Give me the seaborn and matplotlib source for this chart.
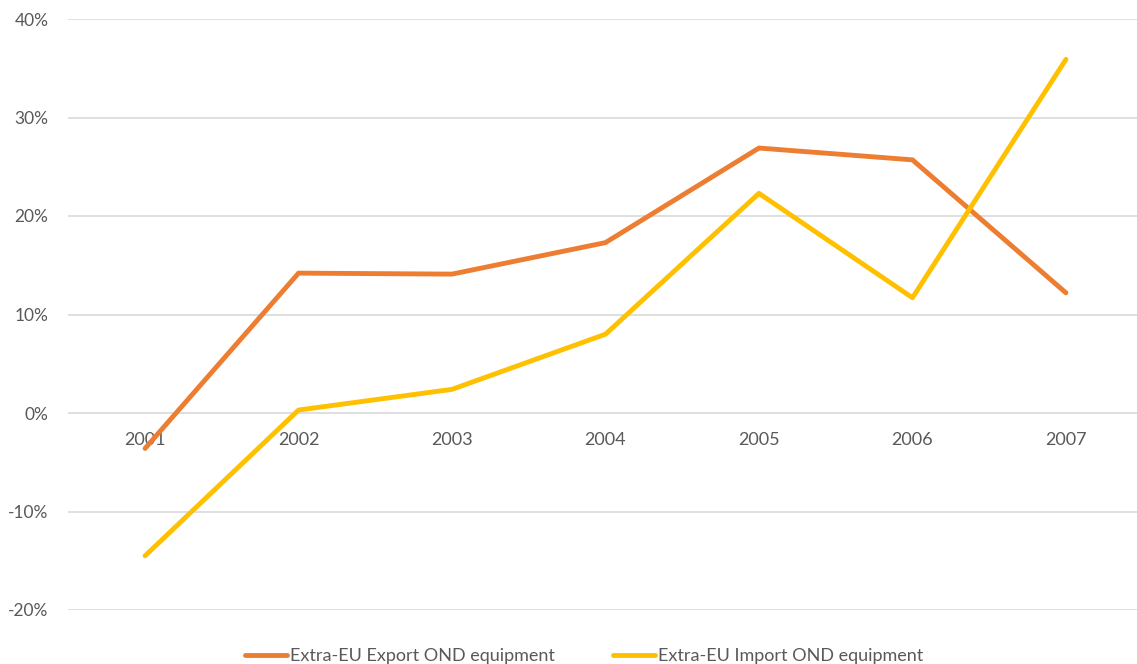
import matplotlib.pyplot as plt
import pandas as pd
import numpy as np
import seaborn as sns

# values (growth rates in %)
years = ['2001', '2002', '2003', '2004', '2005', '2006', '2007']
export_growth = [-3.6, 14.2, 14.1, 17.3, 26.9, 25.7, 12.2]
import_growth = [-14.5, 0.3, 2.4, 8.0, 22.3, 11.7, 35.9]
series_names = ['Extra-EU Export OND equipment', 'Extra-EU Import OND equipment']
series_colors = ['#ED7D31', '#FFC000']

sns.set_style('white')
plt.rcParams['font.family'] = ['Lato', 'DejaVu Sans']

df = pd.DataFrame({
    'Year': years * 2,
    'Growth': export_growth + import_growth,
    'Series': [series_names[0]] * len(years) + [series_names[1]] * len(years),
})
df['pos'] = df['Year'].map({y: i for i, y in enumerate(years)})

fig = plt.figure(figsize=(11.37, 6.64), dpi=100)
ax = fig.add_axes([68 / 1137, 1 - 610 / 664, 1 - 68 / 1137, (610 - 19) / 664])

sns.lineplot(data=df, x='pos', y='Growth', hue='Series', palette=series_colors,
             linewidth=3.5, ax=ax, legend=False, zorder=3)

ax.set_ylim(-20, 40)
ax.set_xlim(-0.502, 6.463)
ax.set_yticks(np.arange(-20, 41, 10))
ax.set_yticklabels([f'{v}%' for v in range(-20, 41, 10)])
ax.yaxis.grid(True, color='#D9D9D9', linewidth=1.2)
ax.set_axisbelow(True)

# year labels sit just under the zero line, like the original
ax.spines['bottom'].set_position(('data', 0))
ax.set_xticks(range(len(years)))
ax.set_xticklabels(years)
for s in ax.spines.values():
    s.set_visible(False)
ax.tick_params(axis='x', length=0, pad=14, labelsize=13, labelcolor='#595959')
ax.tick_params(axis='y', length=0, pad=14, labelsize=12.5, labelcolor='#595959')
ax.set_xlabel('')
ax.set_ylabel('')

handles = [plt.Line2D([], [], color=c, linewidth=3.5) for c in series_colors]
fig.legend(handles, series_names, loc='lower center', bbox_to_anchor=(0.514, -0.025),
           ncol=2, frameon=False, fontsize=13, handlelength=2.3, handletextpad=0.2,
           columnspacing=3.2, labelcolor='#595959')

plt.savefig('out.png', dpi=100)
